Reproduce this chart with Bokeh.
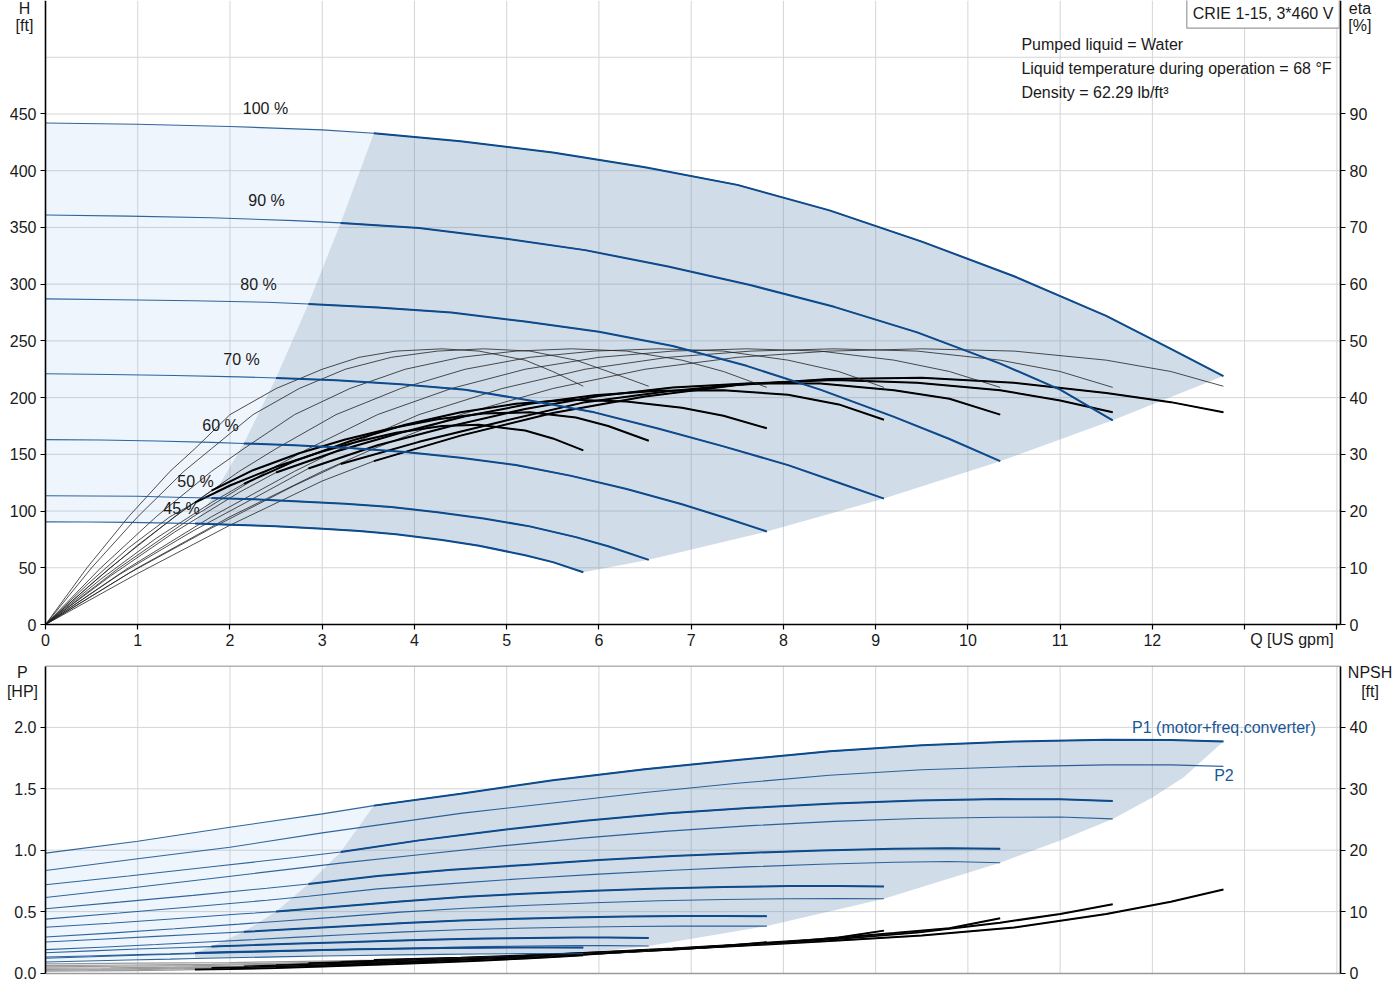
from bokeh.plotting import figure
from bokeh.layouts import column
from bokeh.models import Range1d, LinearAxis, FixedTicker, Label, NumeralTickFormatter
from bokeh.embed import file_html
from bokeh.resources import INLINE

FONT = "Liberation Sans"
BLUE = "#0e4b8c"
TXT = "#1a1a1a"
GRID = "#d5d5d5"

# ---------------- data ----------------
SPEED_LABELS = ["100 %", "90 %", "80 %", "70 %", "60 %", "50 %", "45 %"]
QMIN = [3.56, 3.2, 2.85, 2.5, 2.15, 1.8, 1.62]

Q_100 = [0, 1, 2, 3, 3.56, 4.5, 5.5, 6.5, 7.5, 8.5, 9.5, 10.5, 11.5, 12.2, 12.77]
H_100 = [442, 441, 439, 436, 433, 426, 416, 403, 387.5, 365, 337.5, 307, 272, 243, 219]
ETA_100 = [0, 9, 17.5, 25.3, 28.8, 33.3, 37.3, 40.2, 42.2, 43.3, 43.5, 42.6, 40.8, 39.2, 37.4]
ETAP_100 = [0, 10, 19, 27, 31, 37, 41.6, 45, 47.1, 48.2, 48.6, 48.2, 46.6, 44.6, 42]
P1_100 = [0.976, 1.073, 1.187, 1.296, 1.363, 1.46, 1.57, 1.66, 1.735, 1.805, 1.855, 1.885, 1.9, 1.898, 1.886]
P2_100 = [0.835, 0.93, 1.024, 1.141, 1.2, 1.3, 1.385, 1.47, 1.545, 1.61, 1.655, 1.68, 1.695, 1.695, 1.683]
NPSH_100 = [1.5, 1.6, 1.7, 1.95, 2.1, 2.5, 3.0, 3.65, 4.4, 5.2, 6.1, 7.4, 9.6, 11.6, 13.6]

Q_90 = [0, 0.9, 1.8, 2.7, 3.2, 4.05, 4.95, 5.85, 6.75, 7.65, 8.55, 9.45, 10.35, 11.0, 11.57]
H_90 = [361, 360, 358.5, 356, 354, 349.5, 340.5, 330, 315.5, 299, 280, 257.5, 230, 207, 180]
ETA_90 = [0, 9, 17, 24.5, 28.3, 32.2, 35.8, 39.2, 41.1, 42.5, 43.1, 42.6, 41.3, 39.5, 37.4]
ETAP_90 = [0, 10, 19, 27, 31, 37, 41.6, 45, 47.1, 48.2, 48.6, 48.2, 46.6, 44.6, 41.8]
P1_90 = [0.719, 0.79, 0.865, 0.94, 0.985, 1.08, 1.165, 1.24, 1.3, 1.345, 1.38, 1.405, 1.416, 1.415, 1.4]
P2_90 = [0.615, 0.69, 0.77, 0.85, 0.895, 0.963, 1.035, 1.1, 1.155, 1.2, 1.235, 1.258, 1.268, 1.27, 1.255]
NPSH_90 = [1.2, 1.3, 1.42, 1.65, 1.8, 2.2, 2.6, 3.1, 3.8, 4.6, 5.5, 6.6, 8.2, 9.6, 11.2]

Q_80 = [0, 0.8, 1.6, 2.4, 2.85, 3.6, 4.4, 5.2, 6.0, 6.8, 7.6, 8.4, 9.2, 9.8, 10.35]
H_80 = [287, 286.2, 285.4, 284, 282.5, 279.5, 275, 267, 258, 245.5, 228, 207, 183, 163.5, 144]
ETA_80 = [0, 8.8, 16.5, 23.5, 27.5, 31.6, 35, 38, 40.3, 41.8, 42.5, 42.5, 41.3, 39.8, 37.0]
ETAP_80 = [0, 10, 19, 27, 31, 37, 41.6, 45, 47.1, 48.2, 48.6, 48.2, 46.6, 44.6, 41.8]
P1_80 = [0.523, 0.577, 0.632, 0.69, 0.725, 0.79, 0.84, 0.88, 0.92, 0.953, 0.978, 0.998, 1.012, 1.016, 1.011]
P2_80 = [0.439, 0.488, 0.54, 0.592, 0.625, 0.685, 0.728, 0.77, 0.805, 0.837, 0.864, 0.885, 0.902, 0.908, 0.898]
NPSH_80 = [1.0, 1.1, 1.2, 1.4, 1.6, 1.9, 2.3, 2.8, 3.4, 4.0, 4.7, 5.5, 6.5, 7.3, 8.9]

Q_70 = [0, 0.7, 1.4, 2.1, 2.5, 3.15, 3.85, 4.55, 5.25, 5.95, 6.65, 7.35, 8.05, 8.6, 9.09]
H_70 = [221, 220.3, 219.5, 218.3, 217.3, 215.3, 211.8, 207, 197.5, 187, 172.5, 157, 140.5, 125, 111]
ETA_70 = [0, 8.5, 16.3, 23.3, 26.8, 30.5, 33.8, 36.7, 38.9, 40.4, 41.2, 41.3, 40.5, 38.8, 36.1]
ETAP_70 = [0, 10, 19, 27, 31, 37, 41.6, 45, 47.1, 48.2, 48.6, 48.2, 46.6, 44.6, 41.8]
P1_70 = [0.372, 0.405, 0.442, 0.48, 0.5, 0.54, 0.583, 0.62, 0.648, 0.67, 0.688, 0.7, 0.708, 0.709, 0.705]
P2_70 = [0.293, 0.325, 0.36, 0.398, 0.42, 0.455, 0.496, 0.527, 0.552, 0.572, 0.588, 0.598, 0.605, 0.607, 0.605]
NPSH_70 = [0.8, 0.85, 0.95, 1.1, 1.25, 1.5, 1.9, 2.3, 2.75, 3.25, 3.8, 4.4, 5.05, 5.8, 6.9]

Q_60 = [0, 0.6, 1.2, 1.8, 2.15, 2.7, 3.3, 3.9, 4.5, 5.1, 5.7, 6.3, 6.9, 7.35, 7.82]
H_60 = [163, 162.6, 161.7, 160.5, 159.6, 158, 155.5, 152, 147, 140.5, 131, 119.5, 106, 94.5, 82]
ETA_60 = [0, 8, 15.2, 21.5, 24.8, 28.8, 32.3, 35.2, 37.4, 38.9, 39.6, 39.3, 38.2, 36.8, 34.6]
ETAP_60 = [0, 10, 19, 27, 31, 37, 41.6, 45, 47.1, 48.2, 48.6, 48.2, 46.6, 44.6, 41.8]
P1_60 = [0.252, 0.275, 0.298, 0.322, 0.335, 0.358, 0.383, 0.408, 0.427, 0.441, 0.452, 0.46, 0.465, 0.465, 0.463]
P2_60 = [0.19, 0.21, 0.232, 0.255, 0.268, 0.29, 0.313, 0.335, 0.352, 0.364, 0.373, 0.379, 0.382, 0.383, 0.382]
NPSH_60 = [0.6, 0.65, 0.75, 0.9, 1.05, 1.3, 1.55, 1.85, 2.2, 2.55, 2.95, 3.4, 3.9, 4.4, 5.0]

Q_50 = [0, 0.5, 1, 1.5, 1.8, 2.25, 2.75, 3.25, 3.75, 4.25, 4.75, 5.25, 5.75, 6.1, 6.54]
H_50 = [113.5, 113.3, 113, 112, 111.5, 110.5, 108.5, 106.5, 103.5, 99, 93.5, 86.5, 77, 69, 57]
ETA_50 = [0, 7.2, 14, 20.2, 23.6, 27.2, 30.2, 32.6, 34.6, 36.2, 37.2, 37.4, 36.5, 35, 32.4]
ETAP_50 = [0, 10, 19, 27, 31, 37, 41.6, 45, 47.1, 48.2, 48.6, 48.2, 46.6, 44.6, 42]
P1_50 = [0.165, 0.18, 0.195, 0.208, 0.215, 0.227, 0.24, 0.251, 0.262, 0.272, 0.28, 0.286, 0.289, 0.289, 0.285]
P2_50 = [0.12, 0.132, 0.145, 0.155, 0.161, 0.17, 0.18, 0.19, 0.2, 0.208, 0.215, 0.22, 0.223, 0.223, 0.22]
NPSH_50 = [0.45, 0.5, 0.55, 0.7, 0.8, 0.95, 1.15, 1.4, 1.65, 1.9, 2.2, 2.5, 2.9, 3.25, 3.7]

Q_45 = [0, 0.45, 0.9, 1.35, 1.62, 2.0, 2.5, 3.0, 3.4, 3.8, 4.3, 4.7, 5.2, 5.5, 5.83]
H_45 = [90.5, 90.4, 90, 89.4, 89, 88, 86.5, 84.5, 82.5, 79.5, 74.5, 69.5, 61, 55, 46]
ETA_45 = [0, 7, 13.5, 19, 21.5, 24.5, 27.8, 30.5, 32.3, 33.8, 35, 35.2, 34.2, 32.8, 30.7]
ETAP_45 = [0, 10, 19, 27, 31, 37, 41.6, 45, 47.1, 48.2, 48.6, 48.2, 46.6, 44.6, 42]
P1_45 = [0.13, 0.139, 0.148, 0.157, 0.163, 0.17, 0.179, 0.187, 0.193, 0.198, 0.203, 0.206, 0.208, 0.208, 0.207]
P2_45 = [0.09, 0.098, 0.106, 0.113, 0.118, 0.124, 0.131, 0.138, 0.143, 0.148, 0.152, 0.155, 0.158, 0.159, 0.16]
NPSH_45 = [0.3, 0.33, 0.38, 0.47, 0.55, 0.65, 0.82, 1.05, 1.25, 1.45, 1.75, 2.0, 2.35, 2.6, 2.9]

# right-hand edge of the power operating area
EDGE_Q = [12.77, 12.34, 12.0, 11.57, 11.0, 10.35, 9.09, 7.82, 6.54, 5.83]
EDGE_P = [1.886, 1.594, 1.43, 1.255, 1.079, 0.898, 0.605, 0.382, 0.22, 0.16]

Q_MAX_AXIS = 14.04
H_MAX_AXIS = 550
ETA_MAX_AXIS = 110
P_MAX_AXIS = 2.5
NPSH_MAX_AXIS = 50
H_TICKS = [0, 50, 100, 150, 200, 250, 300, 350, 400, 450]
H_GRID = [50, 100, 150, 200, 250, 300, 350, 400, 450, 500]
ETA_TICKS = [0, 10, 20, 30, 40, 50, 60, 70, 80, 90]
Q_TICKS = [0, 1, 2, 3, 4, 5, 6, 7, 8, 9, 10, 11, 12]
Q_UNLABELLED_TICKS = [13, 14]
Q_GRID = [1, 2, 3, 4, 5, 6, 7, 8, 9, 10, 11, 12, 13, 14]
P_TICKS = [0, 0.5, 1.0, 1.5, 2.0]
P_GRID = [0.5, 1.0, 1.5, 2.0]
NPSH_TICKS = [0, 10, 20, 30, 40]

INFO_LINES = ["Pumped liquid = Water",
              "Liquid temperature during operation = 68 °F",
              "Density = 62.29 lb/ft³"]
TITLE_BOX = "CRIE 1-15, 3*460 V"

QS = [Q_100, Q_90, Q_80, Q_70, Q_60, Q_50, Q_45]
HS = [H_100, H_90, H_80, H_70, H_60, H_50, H_45]
ETAS = [ETA_100, ETA_90, ETA_80, ETA_70, ETA_60, ETA_50, ETA_45]
ETAPS = [ETAP_100, ETAP_90, ETAP_80, ETAP_70, ETAP_60, ETAP_50, ETAP_45]
P1S = [P1_100, P1_90, P1_80, P1_70, P1_60, P1_50, P1_45]
P2S = [P2_100, P2_90, P2_80, P2_70, P2_60, P2_50, P2_45]
NPSHS = [NPSH_100, NPSH_90, NPSH_80, NPSH_70, NPSH_60, NPSH_50, NPSH_45]

# ---------------- pixel geometry ----------------
PX_Q = 92.24          # px per gpm
Q0_PX = 45            # x position of Q = 0
W = 1392
TOP_H, BOT_H = 665, 320
PX_H = 1.1345         # px per ft (top)
PX_P = 122.8          # px per HP (bottom)
H0_PX = 624           # y of H = 0 inside top canvas
P0_PX = 307.5         # y of P = 0 inside bottom canvas


def split(q, v, qmin):
    hi = [(a, b) for a, b in zip(q, v) if a >= qmin - 1e-9]
    return [a for a, _ in hi], [b for _, b in hi]


def at_qmin(q, v, qmin):
    for a, b in zip(q, v):
        if abs(a - qmin) < 1e-9:
            return b
    return v[0]


def style_axis(ax, line_color="black"):
    ax.axis_line_color = line_color
    ax.axis_line_width = 1.6
    ax.major_tick_line_color = "black"
    ax.major_tick_line_width = 1.2
    ax.major_tick_out = 5
    ax.major_tick_in = 0
    ax.minor_tick_line_color = None
    ax.major_label_text_font = FONT
    ax.major_label_text_font_size = "16px"
    ax.major_label_text_color = TXT
    ax.major_label_standoff = 4


def txt(p, x, y, s, size="16px", align="center", color=TXT, **kw):
    lab = Label(x=x, y=y, text=s, text_font=FONT, text_font_size=size,
                text_align=align, text_baseline="middle", text_color=color, **kw)
    p.add_layout(lab)


xr = Range1d(-Q0_PX / PX_Q, (W - Q0_PX) / PX_Q)

# ---------------- top chart: H and eta ----------------
p = figure(frame_width=W, frame_height=TOP_H, x_range=xr,
           y_range=Range1d(-(TOP_H - H0_PX) / PX_H, H0_PX / PX_H),
           output_backend="svg", toolbar_location=None, min_border=0)
p.outline_line_color = None
p.xgrid.visible = False
p.ygrid.visible = False
eta_scale = ETA_MAX_AXIS / H_MAX_AXIS
p.extra_y_ranges = {"eta": Range1d(-(TOP_H - H0_PX) / PX_H * eta_scale,
                                   H0_PX / PX_H * eta_scale)}
xa = p.xaxis[0]
xa.fixed_location = 0
xa.bounds = (0, Q_MAX_AXIS)
style_axis(xa)
xa.ticker = FixedTicker(ticks=Q_TICKS, minor_ticks=Q_UNLABELLED_TICKS)
xa.minor_tick_line_color = "black"
xa.minor_tick_line_width = 1.2
xa.minor_tick_out = 5
xa.minor_tick_in = 0
ya = p.yaxis[0]
ya.ticker = FixedTicker(ticks=H_TICKS)
ya.fixed_location = 0
ya.bounds = (0, H_MAX_AXIS)
style_axis(ya)
eax = LinearAxis(y_range_name="eta", ticker=FixedTicker(ticks=ETA_TICKS),
                 fixed_location=Q_MAX_AXIS, bounds=(0, ETA_MAX_AXIS))
style_axis(eax)
p.add_layout(eax, "right")

# grid
p.segment(x0=Q_GRID, y0=[0] * len(Q_GRID), x1=Q_GRID, y1=[H_MAX_AXIS] * len(Q_GRID),
          line_color=GRID, line_width=1)
p.segment(x0=[0] * len(H_GRID), y0=H_GRID, x1=[Q_MAX_AXIS] * len(H_GRID), y1=H_GRID,
          line_color=GRID, line_width=1)

# operating areas
hmin = [at_qmin(q, h, m) for q, h, m in zip(QS, HS, QMIN)]
i100 = [a >= QMIN[0] - 1e-9 for a in Q_100]
i45 = [a >= QMIN[6] - 1e-9 for a in Q_45]
dx = [a for a, k in zip(Q_100, i100) if k] + [q[-1] for q in QS[1:]] \
    + [a for a, k in zip(Q_45, i45) if k][::-1] + QMIN[5:0:-1]
dy = [a for a, k in zip(H_100, i100) if k] + [h[-1] for h in HS[1:]] \
    + [a for a, k in zip(H_45, i45) if k][::-1] + hmin[5:0:-1]
lx = [a for a, k in zip(Q_100, i100) if not k] + QMIN \
    + [a for a, k in zip(Q_45, i45) if not k][::-1]
ly = [a for a, k in zip(H_100, i100) if not k] + hmin \
    + [a for a, k in zip(H_45, i45) if not k][::-1]
p.patch(lx, ly, fill_color="#559BEB", fill_alpha=0.1, line_color=None)
p.patch(dx, dy, fill_color="#628AB2", fill_alpha=0.3, line_color=None)

for q, e, ep, m in zip(QS, ETAS, ETAPS, QMIN):
    p.line(q, ep, y_range_name="eta", line_color="#222222", line_width=0.8)
    p.line(q, e, y_range_name="eta", line_color="#222222", line_width=0.8)
    xh, yh = split(q, e, m)
    p.line(xh, yh, y_range_name="eta", line_color="black", line_width=2)
for q, h, m in zip(QS, HS, QMIN):
    p.line(q, h, line_color=BLUE, line_width=1.1, line_alpha=0.85)
    xh, yh = split(q, h, m)
    p.line(xh, yh, line_color=BLUE, line_width=2)

# percentage labels
for s, x, y in zip(SPEED_LABELS, [2.385, 2.396, 2.309, 2.125, 1.897, 1.626, 1.474],
                   [454.8, 373.7, 299.7, 233.6, 175.4, 126.0, 102.2]):
    txt(p, x, y, s)

# info box and texts
txt(p, 13.2, 538.5, TITLE_BOX, background_fill_color="white", border_line_color="#9a9a9a",
    border_line_width=1.2, padding=6)
for s, y in zip(INFO_LINES, [511.2, 490.1, 468.9]):
    txt(p, 10.58, y, s, align="left")
txt(p, -0.228, 543.0, "H")
txt(p, -0.228, 528.0, "[ft]")
txt(p, 14.25, 543.0, "eta")
txt(p, 14.25, 528.0, "[%]")
txt(p, 13.06, -13.0, "Q [US gpm]", align="left")

# ---------------- bottom chart: P and NPSH ----------------
npsh_scale = NPSH_MAX_AXIS / P_MAX_AXIS
p2 = figure(frame_width=W, frame_height=BOT_H, x_range=xr,
            y_range=Range1d(-(BOT_H - P0_PX) / PX_P, P0_PX / PX_P),
            output_backend="svg", toolbar_location=None, min_border=0)
p2.outline_line_color = None
p2.xgrid.visible = False
p2.ygrid.visible = False
p2.extra_y_ranges = {"npsh": Range1d(-(BOT_H - P0_PX) / PX_P * npsh_scale,
                                     P0_PX / PX_P * npsh_scale)}
bxa = p2.xaxis[0]
bxa.fixed_location = 0
bxa.bounds = (0, Q_MAX_AXIS)
style_axis(bxa, line_color="#9a9a9a")
bxa.ticker = FixedTicker(ticks=[])
bxa.major_tick_line_color = None
bya = p2.yaxis[0]
bya.ticker = FixedTicker(ticks=P_TICKS)
bya.formatter = NumeralTickFormatter(format="0.0")
bya.fixed_location = 0
bya.bounds = (0, P_MAX_AXIS)
style_axis(bya)
nax = LinearAxis(y_range_name="npsh", ticker=FixedTicker(ticks=NPSH_TICKS),
                 fixed_location=Q_MAX_AXIS, bounds=(0, NPSH_MAX_AXIS))
style_axis(nax)
p2.add_layout(nax, "right")

p2.segment(x0=Q_GRID, y0=[0] * len(Q_GRID), x1=Q_GRID, y1=[P_MAX_AXIS] * len(Q_GRID),
           line_color=GRID, line_width=1)
p2.segment(x0=[0] * len(P_GRID), y0=P_GRID, x1=[Q_MAX_AXIS] * len(P_GRID), y1=P_GRID,
           line_color=GRID, line_width=1)
p2.line([0, Q_MAX_AXIS], [P_MAX_AXIS, P_MAX_AXIS], line_color="#9a9a9a", line_width=1.5)

p1min = [at_qmin(q, v, m) for q, v, m in zip(QS, P1S, QMIN)]
p2min45 = at_qmin(Q_45, P2_45, QMIN[6])
bx = [a for a, k in zip(Q_100, i100) if k] + EDGE_Q[1:] \
    + [a for a, k in zip(Q_45, i45) if k][::-1] + QMIN[6:0:-1]
by = [a for a, k in zip(P1_100, i100) if k] + EDGE_P[1:] \
    + [a for a, k in zip(P2_45, i45) if k][::-1] + p1min[6:0:-1]
blx = [a for a, k in zip(Q_100, i100) if not k] + QMIN + [QMIN[6]] \
    + [a for a, k in zip(Q_45, i45) if not k][::-1]
bly = [a for a, k in zip(P1_100, i100) if not k] + p1min + [p2min45] \
    + [a for a, k in zip(P2_45, i45) if not k][::-1]
p2.patch(blx, bly, fill_color="#559BEB", fill_alpha=0.1, line_color=None)
p2.patch(bx, by, fill_color="#628AB2", fill_alpha=0.3, line_color=None)

for q, n, m in zip(QS, NPSHS, QMIN):
    p2.line(q, n, y_range_name="npsh", line_color="#9a9a9a", line_width=1.2)
    xh, yh = split(q, n, m)
    p2.line(xh, yh, y_range_name="npsh", line_color="black", line_width=2)
for q, a, b, m in zip(QS, P1S, P2S, QMIN):
    p2.line(q, b, line_color=BLUE, line_width=1.1, line_alpha=0.85)
    p2.line(q, a, line_color=BLUE, line_width=1.1, line_alpha=0.85)
    xh, yh = split(q, a, m)
    p2.line(xh, yh, line_color=BLUE, line_width=2)

txt(p2, 11.78, 2.003, "P1 (motor+freq.converter)", align="left", color="#1b5796")
txt(p2, 12.67, 1.612, "P2", align="left", color="#1b5796")
txt(p2, -0.25, 2.443, "P")
txt(p2, -0.25, 2.296, "[HP]")
txt(p2, 14.36, 2.443, "NPSH")
txt(p2, 14.36, 2.296, "[ft]")

layout = column(p, p2, spacing=0)
open("out.html", "w").write(file_html(layout, INLINE))
